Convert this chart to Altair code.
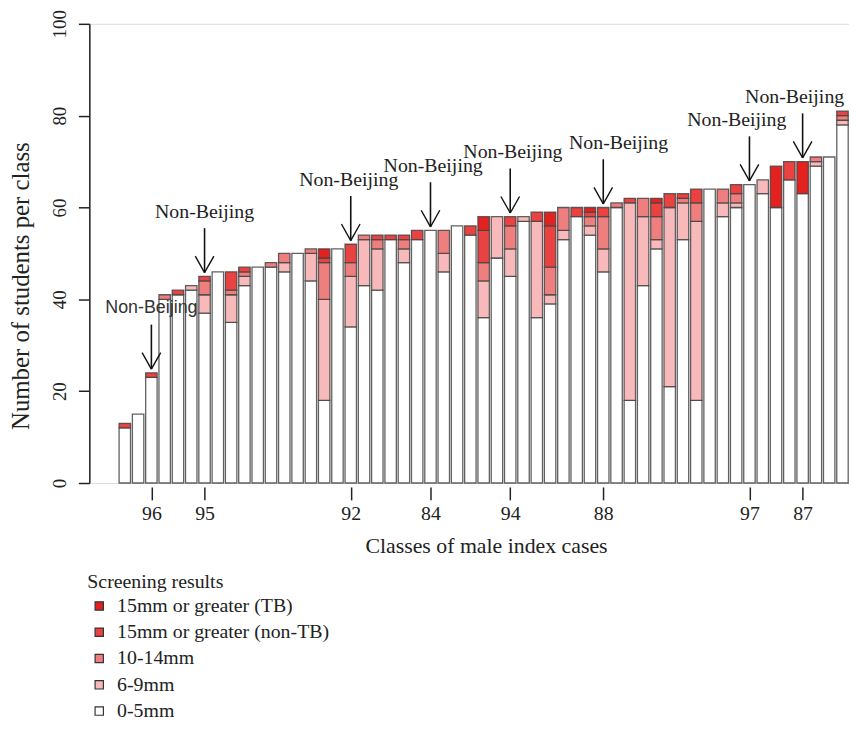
import altair as alt
import pandas as pd

# ---- data ----
categories = ["0-5mm", "6-9mm", "10-14mm", "15mm or greater (non-TB)", "15mm or greater (TB)"]
cat_colors = ["#ffffff", "#f7b9b9", "#ef7f7f", "#ea4240", "#e3221f"]

mm0_5 = [12, 15, 23, 40, 41, 42, 37, 46, 35, 43,
         47, 47, 46, 50, 44, 18, 51, 34, 43, 42,
         53, 48, 53, 55, 46, 56, 54, 36, 49, 45,
         57, 36, 39, 53, 58, 54, 46, 60, 18, 43,
         51, 21, 53, 18, 64, 58, 60, 65, 63, 60,
         66, 63, 69, 71, 78]
mm6_9 = [0, 0, 0, 0, 0, 1, 4, 0, 6, 2,
         0, 0, 2, 0, 6, 22, 0, 11, 10, 9,
         0, 3, 0, 0, 4, 0, 0, 8, 9, 6,
         1, 21, 2, 2, 0, 2, 5, 0, 43, 15,
         2, 39, 8, 39, 0, 3, 1, 0, 3, 0,
         0, 0, 1, 0, 1]
mm10_14 = [0, 0, 0, 1, 0, 0, 3, 0, 1, 1,
           0, 1, 2, 0, 1, 8, 0, 3, 1, 2,
           0, 2, 0, 0, 5, 0, 0, 4, 0, 5,
           0, 0, 6, 5, 0, 2, 7, 1, 0, 4,
           5, 0, 1, 4, 0, 3, 2, 0, 0, 0,
           0, 0, 1, 0, 1]
non_tb = [1, 0, 1, 0, 1, 0, 1, 0, 4, 1,
          0, 0, 0, 0, 0, 1, 0, 4, 0, 1,
          1, 1, 2, 0, 0, 0, 2, 7, 0, 2,
          0, 2, 9, 0, 2, 1, 2, 0, 1, 0,
          3, 3, 1, 3, 0, 0, 2, 0, 0, 0,
          4, 0, 0, 0, 1]
tb = [0, 0, 0, 0, 0, 0, 0, 0, 0, 0,
      0, 0, 0, 0, 0, 2, 0, 0, 0, 0,
      0, 0, 0, 0, 0, 0, 0, 3, 0, 0,
      0, 0, 3, 0, 0, 1, 0, 0, 0, 0,
      1, 0, 0, 0, 0, 0, 0, 0, 0, 9,
      0, 7, 0, 0, 0]

tick_bars = [2, 6, 17, 23, 29, 36, 47, 51]
tick_labels = ["96", "95", "92", "84", "94", "88", "97", "87"]
arrow_text = "Non-Beijing"
# horizontal shift of each annotation text relative to its arrow (in bar units)
label_shift = [0.0, 0.0, -0.15, 0.2, 0.2, 1.15, -0.95, -0.6]

series = [mm0_5, mm6_9, mm10_14, non_tb, tb]

rows = []
for k, (cat, vals) in enumerate(zip(categories, series)):
    for i, v in enumerate(vals):
        if v > 0:
            rows.append({"idx": i, "cat": cat, "n": v, "ord": k})
df = pd.DataFrame(rows)

totals = [sum(s[i] for s in series) for i in range(len(mm0_5))]
ann = pd.DataFrame({"idx": tick_bars, "total": [totals[i] for i in tick_bars],
                    "shift": label_shift,
                    "label": [arrow_text] * len(tick_bars)})

SERIF = "Liberation Serif"
legend_order = categories[::-1]
legend_colors = cat_colors[::-1]

x_scale = alt.Scale(domain=[-2.67, 54.49], nice=False, zero=False)
y_scale = alt.Scale(domain=[0, 100], nice=False)

label_expr = "[" + ",".join("'%s'" % t for t in tick_labels) + "][indexof([" + \
    ",".join(str(b) for b in tick_bars) + "], datum.value)]"

bars = alt.Chart(df).transform_stack(
    stack="n", groupby=["idx"], as_=["y0", "y1"],
    sort=[alt.SortField("ord", order="ascending")]
).transform_calculate(
    xl="datum.idx - 0.43", xr="datum.idx + 0.43"
).mark_bar(stroke="#454545", strokeWidth=1.3, strokeOpacity=0.85).encode(
    x=alt.X("xl:Q", scale=x_scale,
            axis=alt.Axis(values=tick_bars, labelExpr=label_expr, domain=False, grid=False,
                          tickSize=13, offset=4, tickColor="#222", tickWidth=1.5,
                          labelFont=SERIF, labelFontSize=20, labelColor="#222",
                          labelPadding=4, title="Classes of male index cases",
                          titleFont=SERIF, titleFontSize=22, titleFontWeight="normal",
                          titleColor="#222", titleX=400, titleY=66,
                          titleBaseline="alphabetic", titleAnchor="middle")),
    x2="xr:Q",
    y=alt.Y("y0:Q", scale=y_scale,
            axis=alt.Axis(values=[0, 20, 40, 60, 80, 100], grid=False, tickSize=11,
                          domainColor="#222", domainWidth=1.5, tickColor="#222", tickWidth=1.5,
                          labelAngle=-90, labelAlign="center", labelBaseline="alphabetic",
                          labelPadding=13, labelFont=SERIF, labelFontSize=19, labelColor="#222",
                          title="Number of students per class", titleFont=SERIF,
                          titleFontSize=25, titleFontWeight="normal", titleColor="#222",
                          titleX=-61, titleY=264, titleAngle=-90, titleBaseline="alphabetic",
                          titleAlign="center")),
    y2="y1:Q",
    color=alt.Color("cat:N", scale=alt.Scale(domain=legend_order, range=legend_colors),
                    legend=alt.Legend(title="Screening results", orient="none",
                                      legendX=-2, legendY=553, symbolType="square",
                                      symbolSize=70, symbolStrokeColor="#333",
                                      symbolStrokeWidth=1.2, symbolOffset=2,
                                      labelOffset=8, labelFont=SERIF, labelFontSize=20,
                                      labelColor="#222", titleFont=SERIF, titleFontSize=20,
                                      titleFontWeight="normal", titleColor="#222",
                                      titlePadding=4, rowPadding=6.5, padding=0,
                                      labelLimit=400)),
)

shaft = alt.Chart(ann).transform_calculate(
    y_top="datum.total + 10.5", y_tip="datum.total + 0.8"
).mark_rule(color="#111", strokeWidth=1.6).encode(
    x=alt.X("idx:Q", scale=x_scale), y=alt.Y("y_top:Q", scale=y_scale), y2="y_tip:Q"
)
arm_l = alt.Chart(ann).transform_calculate(
    xa="datum.idx - 0.7", ya="datum.total + 4.4", y_tip="datum.total + 0.8"
).mark_rule(color="#111", strokeWidth=1.4).encode(
    x=alt.X("xa:Q", scale=x_scale), x2="idx:Q",
    y=alt.Y("ya:Q", scale=y_scale), y2="y_tip:Q"
)
arm_r = alt.Chart(ann).transform_calculate(
    xa="datum.idx + 0.7", ya="datum.total + 4.4", y_tip="datum.total + 0.8"
).mark_rule(color="#111", strokeWidth=1.4).encode(
    x=alt.X("xa:Q", scale=x_scale), x2="idx:Q",
    y=alt.Y("ya:Q", scale=y_scale), y2="y_tip:Q"
)

text_sans = alt.Chart(ann).transform_filter("datum.idx == %d" % tick_bars[0]).transform_calculate(
    yt="datum.total + 14", xt="datum.idx + datum.shift"
).mark_text(font="Liberation Sans", fontSize=18, color="#333", baseline="middle").encode(
    x=alt.X("xt:Q", scale=x_scale), y=alt.Y("yt:Q", scale=y_scale), text="label:N"
)
text_serif = alt.Chart(ann).transform_filter("datum.idx != %d" % tick_bars[0]).transform_calculate(
    yt="datum.total + 14", xt="datum.idx + datum.shift"
).mark_text(font=SERIF, fontSize=20, color="#222", baseline="middle").encode(
    x=alt.X("xt:Q", scale=x_scale), y=alt.Y("yt:Q", scale=y_scale), text="label:N"
)

chart = alt.layer(bars, shaft, arm_l, arm_r, text_sans, text_serif).properties(
    width=766, height=463,
    autosize=alt.AutoSizeParams(type="none"),
    padding={"left": 82, "top": 13, "right": 0, "bottom": 236},
).configure_view(stroke=None).configure(background="white")

chart.save("out.html", embed_options={"renderer": "svg", "actions": False})
